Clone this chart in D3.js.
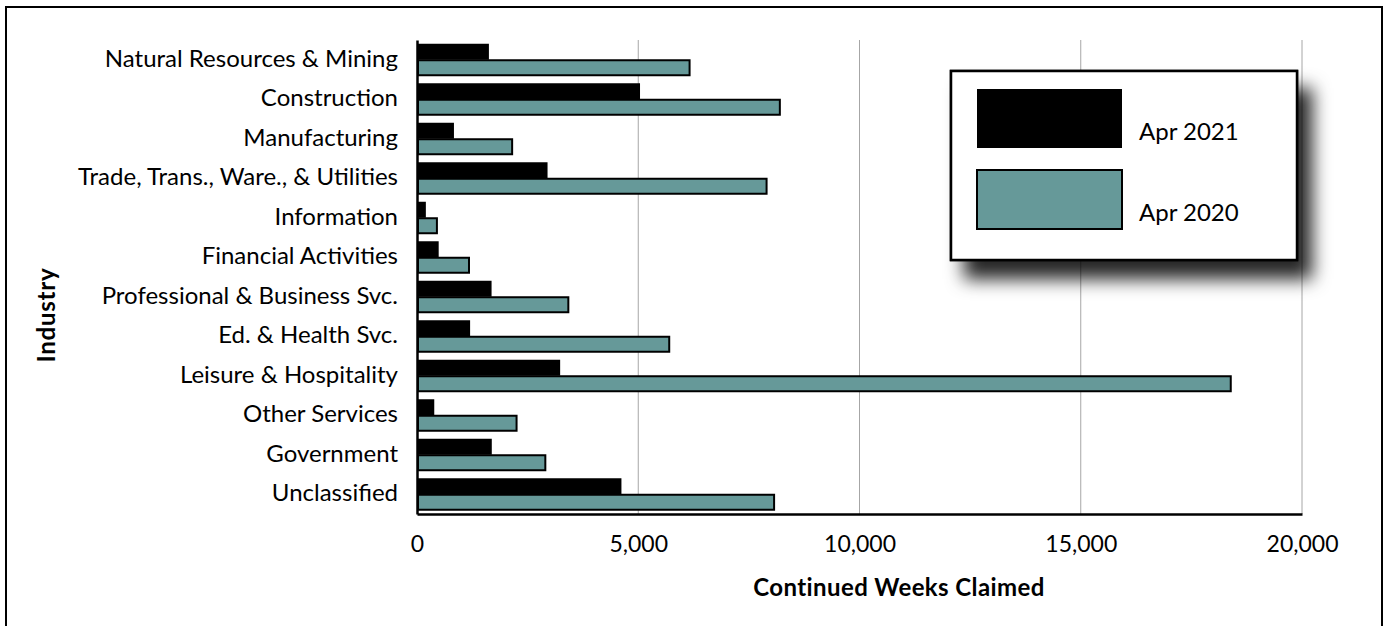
<!DOCTYPE html>
<html>
<head>
<meta charset="utf-8">
<script src="https://cdn.jsdelivr.net/npm/d3@7"></script>
<style>
  body { margin: 0; background: #fff; }
  svg text { font-family: Lato, "Open Sans", sans-serif; fill: #000; }
</style>
</head>
<body>
<div id="chart"></div>
<script>
// industries, top to bottom
const industries = [
  'Natural Resources & Mining', 'Construction', 'Manufacturing',
  'Trade, Trans., Ware., & Utilities', 'Information', 'Financial Activities',
  'Professional & Business Svc.', 'Ed. & Health Svc.', 'Leisure & Hospitality',
  'Other Services', 'Government', 'Unclassified'
];
const seriesNames = ['Apr 2021', 'Apr 2020'];
const apr2021 = [1625, 5040, 835, 2950, 200, 490, 1685, 1200, 3235, 390, 1690, 4620];
const apr2020 = [6160, 8200, 2150, 7900, 450, 1175, 3420, 5700, 18390, 2250, 2900, 8070];
const xTicks = [0, 5000, 10000, 15000, 20000];

const width = 1390, height = 626;
const margin = { top: 40, right: 88, bottom: 112, left: 417 };
const innerW = width - margin.left - margin.right;
const innerH = height - margin.top - margin.bottom;
const colors = ['#000000', '#669999'];

const svg = d3.select('#chart').append('svg')
  .attr('width', width)
  .attr('height', height);

// legend shadow
const defs = svg.append('defs');
const shadow = defs.append('filter').attr('id', 'shadow')
  .attr('x', '-20%').attr('y', '-20%').attr('width', '160%').attr('height', '180%');
shadow.append('feDropShadow')
  .attr('dx', 14).attr('dy', 18).attr('stdDeviation', 9)
  .attr('flood-color', '#000').attr('flood-opacity', 0.85);

// outer frame
svg.append('rect')
  .attr('x', 6).attr('y', 7)
  .attr('width', 1376).attr('height', 640)
  .attr('fill', 'none').attr('stroke', '#000').attr('stroke-width', 2);

const g = svg.append('g')
  .attr('transform', `translate(${margin.left},${margin.top})`);

const x = d3.scaleLinear().domain([0, 20000]).range([0, innerW]);
const y = d3.scaleBand().domain(industries).range([0, innerH])
  .paddingInner(0.19).paddingOuter(0.095);
const ySub = d3.scaleBand().domain(seriesNames).range([0, y.bandwidth()]);

// gridlines
g.selectAll('.grid')
  .data(xTicks.slice(1))
  .enter().append('line')
  .attr('class', 'grid')
  .attr('x1', d => x(d)).attr('x2', d => x(d))
  .attr('y1', 0).attr('y2', innerH)
  .attr('stroke', '#a6a6a6').attr('stroke-width', 1);

const rows = industries.map((name, i) => ({ name, values: [apr2021[i], apr2020[i]] }));

const row = g.selectAll('.row')
  .data(rows)
  .enter().append('g')
  .attr('class', 'row')
  .attr('transform', d => `translate(0,${y(d.name)})`);

row.selectAll('rect')
  .data(d => d.values.map((v, j) => ({ series: seriesNames[j], value: v, j })))
  .enter().append('rect')
  .attr('x', 1)
  .attr('y', d => ySub(d.series) + (d.j === 1 ? 0.5 : 0))
  .attr('width', d => x(d.value) - 1)
  .attr('height', d => ySub.bandwidth() - (d.j === 1 ? 1 : 0))
  .attr('fill', d => colors[d.j])
  .attr('stroke', d => d.j === 1 ? '#000' : 'none')
  .attr('stroke-width', 2);

// axes
const xAxis = g.append('g')
  .attr('transform', `translate(0,${innerH})`)
  .call(d3.axisBottom(x).tickValues(xTicks).tickSize(0).tickPadding(22)
    .tickFormat(d3.format(',')));
xAxis.select('.domain').attr('stroke', '#000').attr('stroke-width', 2.5);
xAxis.selectAll('text').style('font-size', '23px');

const yAxis = g.append('g')
  .call(d3.axisLeft(y).tickSize(0).tickPadding(19));
yAxis.select('.domain').attr('stroke', '#000').attr('stroke-width', 2.5);
yAxis.selectAll('text').style('font-size', '24px').attr('dy', '0.3em');

// axis titles
svg.append('text')
  .attr('x', 899).attr('y', 588)
  .attr('dy', '0.35em')
  .attr('text-anchor', 'middle')
  .style('font-size', '24px').style('font-weight', 'bold')
  .style('letter-spacing', '0.4px')
  .text('Continued Weeks Claimed');

svg.append('text')
  .attr('transform', 'translate(47,315) rotate(-90)')
  .attr('dy', '0.35em')
  .attr('text-anchor', 'middle')
  .style('font-size', '24px').style('font-weight', 'bold')
  .style('letter-spacing', '0.8px')
  .text('Industry');

// legend
const legend = svg.append('g').attr('transform', 'translate(951,71)');
legend.append('rect')
  .attr('width', 346).attr('height', 189)
  .attr('fill', '#fff').attr('stroke', '#000').attr('stroke-width', 2.5)
  .attr('filter', 'url(#shadow)');
legend.append('rect')
  .attr('width', 346).attr('height', 189)
  .attr('fill', '#fff').attr('stroke', '#000').attr('stroke-width', 2.5);

const item = legend.selectAll('.item')
  .data(seriesNames)
  .enter().append('g')
  .attr('class', 'item')
  .attr('transform', (d, i) => `translate(26,${18 + i * 81})`);
item.append('rect')
  .attr('width', 145).attr('height', 59)
  .attr('fill', (d, i) => colors[i])
  .attr('stroke', '#000').attr('stroke-width', (d, i) => i === 1 ? 2 : 0);
item.append('text')
  .attr('x', 162).attr('y', 43)
  .attr('dy', '0.35em')
  .style('font-size', '24px')
  .text(d => d);
</script>
</body>
</html>
